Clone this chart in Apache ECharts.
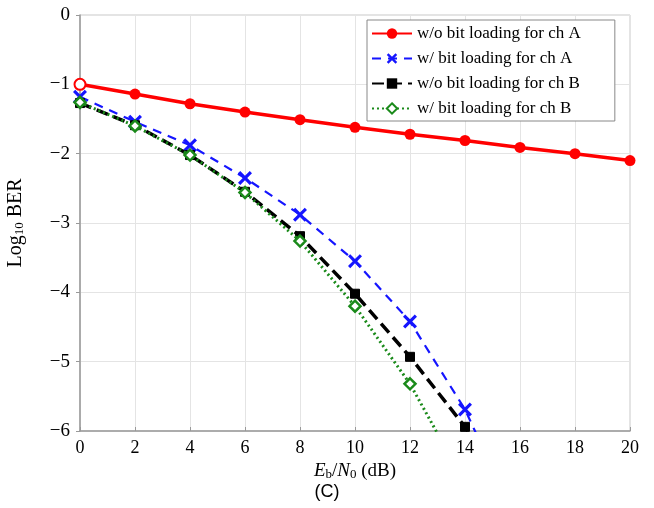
<!DOCTYPE html>
<html>
<head>
<meta charset="utf-8">
<script src="https://cdn.jsdelivr.net/npm/echarts@6/dist/echarts.min.js"></script>
<style>
  html, body { margin: 0; padding: 0; background: #fff; }
  #chart { width: 654px; height: 508px; }
</style>
</head>
<body>
<div id="chart"></div>
<script>
// Eb/N0 in dB
const snr = [0, 2, 4, 6, 8, 10, 12, 14, 16, 18, 20]
// log10 BER (points past -6 fall outside and get clipped)
const noLoadA = [-1.00, -1.14, -1.28, -1.40, -1.51, -1.62, -1.72, -1.81, -1.91, -2.00, -2.10]
const loadA = [-1.18, -1.54, -1.88, -2.35, -2.88, -3.55, -4.42, -5.69, -7.40]
const noLoadB = [-1.27, -1.59, -2.02, -2.55, -3.19, -4.02, -4.93, -5.94, -7.10]
const loadB = [-1.26, -1.60, -2.02, -2.56, -3.26, -4.20, -5.32, -6.75]
const yTicks = [0, -1, -2, -3, -4, -5, -6]

const serif = 'Liberation Serif'
const xMark = 'path://M0,1.6L1.6,0L5,3.4L8.4,0L10,1.6L6.6,5L10,8.4L8.4,10L5,6.6L1.6,10L0,8.4L3.4,5Z'

function pairs(ys) {
  return ys.map((y, i) => [snr[i], y])
}

const chart = echarts.init(document.getElementById('chart'))

chart.setOption({
  animation: false,
  grid: {
    left: 80, right: 24, top: 15, bottom: 77,
    containLabel: false, outerBoundsMode: 'none',
    show: true, borderColor: '#c8c8c8', borderWidth: 1
  },
  title: {
    text: '(C)',
    left: 'center',
    bottom: 2,
    textStyle: { fontFamily: 'Liberation Sans', fontSize: 18, fontWeight: 'normal', color: '#000' }
  },
  legend: {
    orient: 'vertical',
    left: 367,
    top: 20,
    padding: [5, 34, 4, 4],
    itemGap: 8,
    itemWidth: 40,
    itemHeight: 13,
    backgroundColor: '#fff',
    borderColor: '#888',
    borderWidth: 1,
    borderRadius: 0,
    textStyle: { fontFamily: serif, fontSize: 17, color: '#000' },
    data: ['w/o bit loading for ch A', 'w/ bit loading for ch A', 'w/o bit loading for ch B', 'w/ bit loading for ch B']
  },
  xAxis: {
    type: 'value',
    min: 0,
    max: 20,
    interval: 2,
    name: '{i|E}{s|b}{n|/}{i|N}{s|0}{n| (dB)}',
    nameLocation: 'middle',
    nameGap: 28,
    nameTextStyle: {
      rich: {
        i: { fontFamily: serif, fontSize: 19, fontStyle: 'italic', color: '#000' },
        n: { fontFamily: serif, fontSize: 19, color: '#000' },
        s: { fontFamily: serif, fontSize: 13, color: '#000', verticalAlign: 'bottom', padding: [7, 0, 0, 0] }
      }
    },
    axisLine: { onZero: false, lineStyle: { color: '#999', width: 1.5 } },
    axisTick: { show: true, inside: true, length: 4, lineStyle: { color: '#999' } },
    axisLabel: { fontFamily: serif, fontSize: 18, color: '#000', margin: 8 },
    splitLine: { show: true, lineStyle: { color: '#e4e4e4' } }
  },
  yAxis: {
    type: 'value',
    min: -6,
    max: 0,
    interval: 1,
    name: '{n|Log}{s|10}{n| BER}',
    nameLocation: 'middle',
    nameGap: 54,
    nameTextStyle: {
      rich: {
        n: { fontFamily: serif, fontSize: 20, color: '#000' },
        s: { fontFamily: serif, fontSize: 13, color: '#000', verticalAlign: 'bottom', padding: [8, 0, 0, 0] }
      }
    },
    axisLine: { show: true, lineStyle: { color: '#999', width: 1.5 } },
    axisTick: { show: true, length: 4, lineStyle: { color: '#999' } },
    axisLabel: {
      fontFamily: serif, fontSize: 19, color: '#000', margin: 10,
      formatter: v => yTicks.includes(v) ? (v < 0 ? '\u2212' + Math.abs(v) : String(v)) : ''
    },
    splitLine: { show: true, lineStyle: { color: '#e4e4e4' } }
  },
  series: [
    {
      name: 'w/o bit loading for ch A',
      type: 'line',
      data: pairs(noLoadA).map((p, i) => i === 0
        ? { value: p, itemStyle: { color: '#fff', borderColor: '#f00', borderWidth: 2 } }
        : p),
      symbol: 'circle',
      symbolSize: 11,
      color: '#f00',
      lineStyle: { color: '#f00', width: 3.5 },
      itemStyle: { color: '#f00' },
      z: 2
    },
    {
      name: 'w/ bit loading for ch A',
      type: 'line',
      data: pairs(loadA),
      symbol: xMark,
      symbolSize: 14,
      color: '#1515ff',
      lineStyle: { color: '#1515ff', width: 2.2, type: [9, 7] },
      itemStyle: { color: '#1515ff' },
      z: 3
    },
    {
      name: 'w/o bit loading for ch B',
      type: 'line',
      data: pairs(noLoadB),
      symbol: 'rect',
      symbolSize: 9,
      color: '#000',
      lineStyle: { color: '#000', width: 3.5, type: [12, 6] },
      itemStyle: { color: '#000', borderColor: '#000' },
      z: 4
    },
    {
      name: 'w/ bit loading for ch B',
      type: 'line',
      data: pairs(loadB),
      symbol: 'diamond',
      symbolSize: 11,
      color: '#1a8a1a',
      lineStyle: { color: '#1a8a1a', width: 3, type: [2, 3] },
      itemStyle: { color: '#fff', borderColor: '#1a8a1a', borderWidth: 2.5 },
      z: 5
    }
  ]
})
</script>
</body>
</html>
